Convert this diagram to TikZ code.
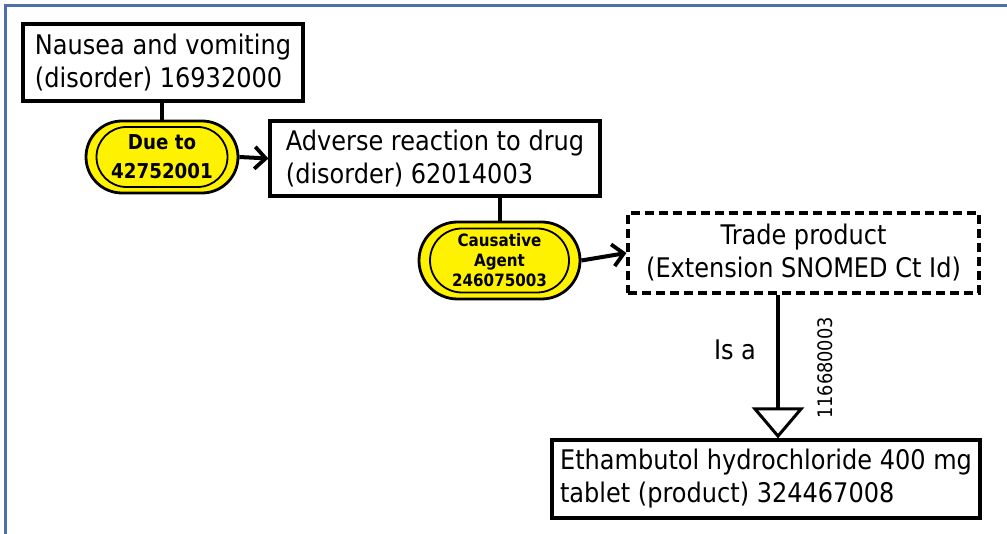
\documentclass[tikz,border=0pt]{standalone}
\usepackage{fontspec}
\setmainfont[FakeStretch=0.89]{DejaVu Sans}
\usetikzlibrary{arrows.meta,shapes.misc}
\definecolor{framec}{HTML}{4A72A8}
\begin{document}
\begin{tikzpicture}[x=1pt,y=-1pt,
  box/.style={draw, line width=3.2pt, align=left, inner sep=0pt, font=\fontsize{27}{33}\selectfont},
  dbox/.style={box, dashed, dash pattern=on 9pt off 5pt, align=center},
  pill/.style={rounded rectangle, draw, line width=2.8pt, fill=yellow, inner sep=0pt, align=center},
  pillin/.style={rounded rectangle, draw, line width=1.8pt, inner sep=0pt},
  conn/.style={line width=4pt},
  arr/.style={conn, -{Straight Barb[length=11pt, width=22pt, line width=3.8pt]}},
  isa/.style={conn, -{Triangle[open, length=31pt, width=52pt, line width=3pt]}},
  lbl/.style={font=\fontsize{27}{33}\selectfont, inner sep=0pt}]
\useasboundingbox (0,0) rectangle (1007,534);
\draw[framec, line width=3pt] (5,534) -- (5,6) -- (1007,6);

\node[box, minimum width=280pt, minimum height=77pt] (n1) at (163,62.5) {Nausea and vomiting\\(disorder) 16932000};
\node[box, minimum width=330pt, minimum height=75pt] (n2) at (435,158.5) {Adverse reaction to drug\\(disorder) 62014003};
\node[dbox, minimum width=351pt, minimum height=80pt] (n3) at (803.5,253) {Trade product\\(Extension SNOMED Ct Id)};
\node[box, minimum width=428pt, minimum height=78pt] (n4) at (766,479) {Ethambutol hydrochloride 400 mg\\tablet (product) 324467008};

\node[pill, minimum width=152pt, minimum height=72pt, font=\bfseries\fontsize{20.5}{29}\selectfont] (p1) at (162,157) {Due to\\42752001};
\node[pillin, minimum width=131pt, minimum height=60pt] (p1i) at (p1.center) {};
\node[pill, minimum width=161pt, minimum height=77pt, font=\bfseries\fontsize{17}{20}\selectfont] (p2) at (499.5,260.5) {Causative\\Agent\\246075003};
\node[pillin, minimum width=139pt, minimum height=64pt] (p2i) at (p2.center) {};

\draw[conn] (p1.north |- n1.south) -- (p1.north);
\draw[arr] (p1.east) -- (n2.west);
\draw[conn] (p2.north |- n2.south) -- (p2.north);
\draw[arr] (p2.east) -- (n3.west);
\coordinate (isatop) at ([xshift=-25.5pt]n3.south);
\draw[isa] (isatop) -- (isatop |- n4.north);

\node[lbl] (isalbl) at (735,350) {Is a};
\node[lbl, font=\fontsize{20}{24}\selectfont, rotate=90] (isaid) at (825,368) {116680003};
\end{tikzpicture}
\end{document}
